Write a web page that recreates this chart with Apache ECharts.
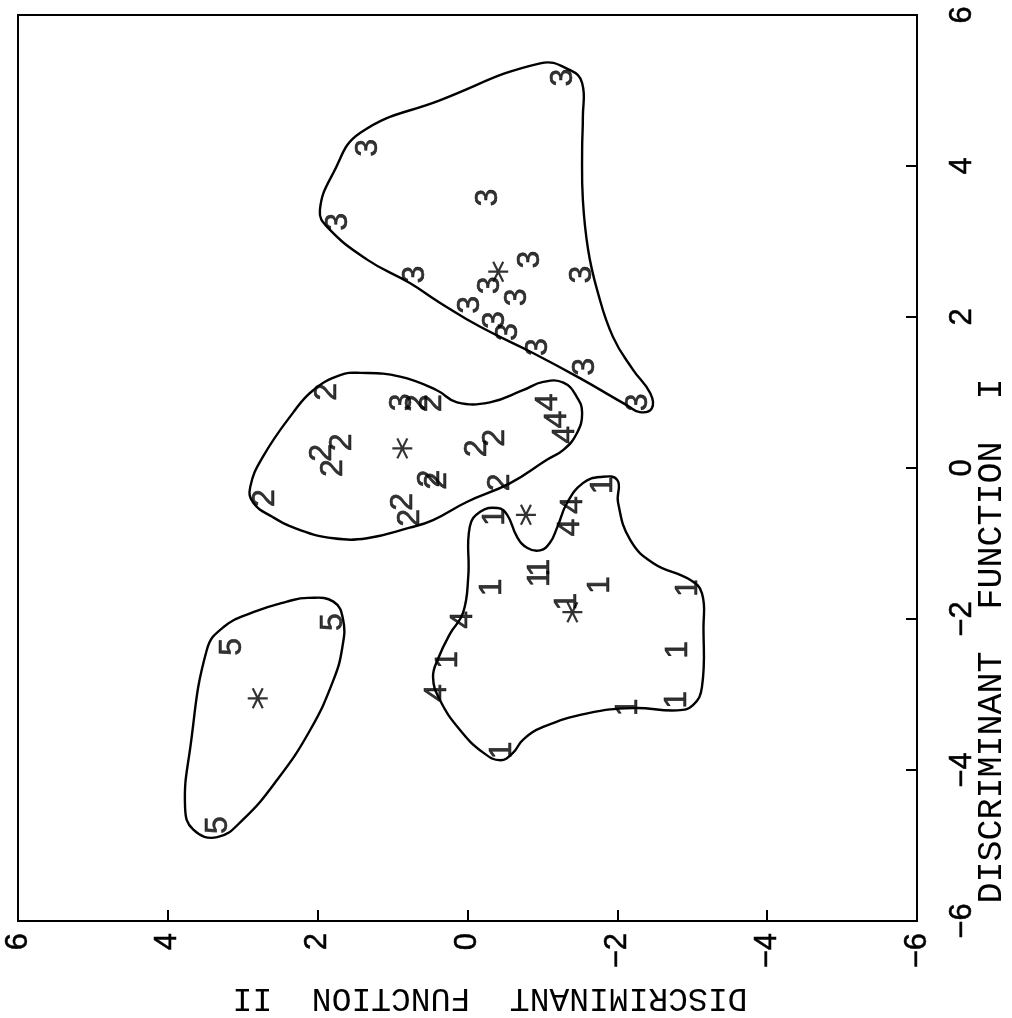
<!DOCTYPE html>
<html><head><meta charset="utf-8">
<script src="https://cdn.jsdelivr.net/npm/echarts@6/dist/echarts.min.js"></script>
<style>html,body{margin:0;padding:0;background:#fff}#c{width:1012px;height:1018px}</style>
</head><body><div id="c"></div>
<script>
// Points are [Discriminant Function II, Discriminant Function I]
const group1 = [[-1.81,-0.23],[-0.37,-0.65],[-0.97,-1.32],[-0.97,-1.46],[-0.33,-1.58],[-1.77,-1.55],[-1.33,-1.77],[-2.95,-1.59],[0.26,-2.54],[-2.81,-2.41],[-2.80,-3.07],[-2.14,-3.17],[-0.46,-3.74]];
const group2 = [[1.87,1.01],[0.66,0.86],[0.47,0.86],[1.67,0.34],[1.94,0.20],[1.79,0.00],[-0.13,0.26],[-0.37,0.40],[0.50,-0.14],[0.40,-0.17],[-0.44,-0.19],[2.70,-0.40],[0.86,-0.45],[0.77,-0.66]];
const group3 = [[-1.28,5.17],[1.33,4.24],[1.73,3.26],[-0.27,3.58],[0.70,2.56],[-0.84,2.76],[-0.30,2.42],[-0.66,2.26],[-0.03,2.16],[-1.53,2.56],[-0.37,1.96],[-0.54,1.80],[-0.94,1.60],[-1.57,1.34],[-2.28,0.87],[0.87,0.87]];
const group4 = [[-1.41,-0.49],[-1.37,-0.79],[0.06,-2.01],[0.41,-2.98],[-1.08,0.87],[-1.20,0.64],[-1.30,0.44]];
const group5 = [[3.14,-2.37],[1.79,-2.04],[3.33,-4.73]];
const centroids = [[-1.40,-1.91],[0.87,0.26],[-0.41,2.60],[-0.78,-0.62],[2.80,-3.05]];

const outline1 = [[-1.77,-0.12],[-2.00,-0.16],[-2.01,-0.46],[-2.17,-0.95],[-2.48,-1.26],[-2.97,-1.48],[-3.13,-1.66],[-3.15,-2.11],[-3.13,-2.90],[-3.01,-3.14],[-2.80,-3.21],[-2.21,-3.18],[-1.60,-3.25],[-1.01,-3.43],[-0.74,-3.60],[-0.61,-3.77],[-0.44,-3.87],[-0.21,-3.77],[0.10,-3.47],[0.37,-3.07],[0.46,-2.77],[0.39,-2.52],[0.23,-2.19],[0.06,-1.92],[-0.01,-1.44],[-0.03,-0.78],[-0.17,-0.58],[-0.40,-0.53],[-0.53,-0.62],[-0.66,-0.91],[-0.80,-1.06],[-0.97,-1.09],[-1.10,-0.99],[-1.20,-0.78],[-1.33,-0.46],[-1.54,-0.20]];
const outline2 = [[2.06,1.03],[1.70,1.23],[1.43,1.26],[0.90,1.21],[0.41,1.03],[0.14,0.87],[-0.30,0.87],[-0.74,1.03],[-1.01,1.14],[-1.28,1.13],[-1.46,0.94],[-1.53,0.73],[-1.46,0.46],[-1.28,0.24],[-1.06,0.11],[-0.57,-0.20],[0.01,-0.45],[0.46,-0.69],[0.77,-0.79],[1.34,-0.93],[1.79,-0.93],[2.24,-0.82],[2.60,-0.65],[2.86,-0.46],[2.90,-0.25],[2.73,0.15],[2.33,0.73]];
const outline3 = [[-0.97,5.36],[-1.37,5.27],[-1.53,5.10],[-1.54,4.65],[-1.53,4.21],[-1.54,3.55],[-1.61,2.89],[-1.73,2.36],[-1.94,1.74],[-2.21,1.30],[-2.44,0.99],[-2.46,0.79],[-2.30,0.74],[-2.13,0.83],[-1.50,1.19],[-0.88,1.52],[-0.17,1.87],[0.37,2.19],[0.77,2.45],[1.34,2.76],[1.87,3.19],[1.97,3.42],[1.79,3.91],[1.43,4.44],[0.37,4.87]];
const outline5 = [[2.13,-1.72],[1.79,-1.77],[1.66,-2.01],[1.67,-2.37],[1.79,-2.81],[2.10,-3.47],[2.54,-4.13],[3.00,-4.66],[3.34,-4.89],[3.66,-4.79],[3.77,-4.49],[3.70,-3.70],[3.48,-2.41],[3.26,-2.11],[2.86,-1.91],[2.41,-1.77]];

const axisMin = -6, axisMax = 6, axisStep = 2;
const xTitle = 'DISCRIMINANT  FUNCTION  II';
const yTitle = 'DISCRIMINANT  FUNCTION  I';

const chart = echarts.init(document.getElementById('c'));
const digitFont = 'Liberation Sans';
function labelSeries(name, data, text) {
  return {type:'scatter', name, data, symbol:'circle', symbolSize:1,
    itemStyle:{color:'rgba(0,0,0,0)'}, silent:true, z:3,
    label:{show:true, position:'inside', formatter:text, rotate:90,
      fontFamily:digitFont, fontSize:32, color:'#000',
      textBorderColor:'#000', textBorderWidth:0.6}};
}
function outlineSeries(name, data) {
  return {type:'custom', name, data, silent:true, clip:false, z:2,
    renderItem:(params, api) => {
      if (params.dataIndex !== 0) return null;
      const pts = data.map(p => api.coord(p));
      return {type:'polygon', shape:{points:pts, smooth:0.45},
        style:{fill:'none', stroke:'#000', lineWidth:2.4}};
    }};
}
const fmt = v => v < 0 ? '\u2212' + (-v) : String(v);
const axisCommon = {type:'value', min:axisMin, max:axisMax, interval:axisStep,
  axisLine:{show:true, onZero:false, lineStyle:{color:'#000', width:2}},
  axisTick:{show:true, inside:true, length:11, lineStyle:{color:'#000', width:2}},
  splitLine:{show:false},
  nameLocation:'middle'};
const tickLabel = {rotate:90, fontSize:31, fontFamily:digitFont, color:'#000', formatter:fmt,
  textBorderColor:'#000', textBorderWidth:0.5};
chart.setOption({
  animation:false,
  backgroundColor:'#fff',
  grid:{left:18, right:95, top:15, bottom:97, show:true, borderColor:'#000', borderWidth:2,
        containLabel:false, outerBoundsMode:'none'},
  xAxis:Object.assign({}, axisCommon, {position:'bottom', inverse:true,
    axisLabel:Object.assign({margin:12}, tickLabel),
    name:xTitle, nameRotate:180, nameGap:60,
    nameTextStyle:{fontFamily:'Liberation Mono', fontSize:33, color:'#000', padding:[0,45,0,0]}}),
  yAxis:Object.assign({}, axisCommon, {position:'right',
    axisLabel:Object.assign({margin:30}, tickLabel),
    name:yTitle, nameRotate:90, nameGap:57, nameMoveOverlap:false,
    nameTextStyle:{fontFamily:'Liberation Mono', fontSize:35, color:'#000', padding:[0,346,0,0]}}),
  series:[
    outlineSeries('outline1', outline1),
    outlineSeries('outline2', outline2),
    outlineSeries('outline3', outline3),
    outlineSeries('outline5', outline5),
    labelSeries('1', group1, '1'),
    labelSeries('2', group2, '2'),
    labelSeries('3', group3, '3'),
    labelSeries('4', group4, '4'),
    labelSeries('5', group5, '5'),
    {type:'scatter', name:'centroid', data:centroids, silent:true, z:4,
     symbol:'path://M-10,0L10,0M-5,-8.66L5,8.66M-5,8.66L5,-8.66', symbolSize:20,
     itemStyle:{color:'#000', borderColor:'#000', borderWidth:2.2}}
  ]
});
</script></body></html>
